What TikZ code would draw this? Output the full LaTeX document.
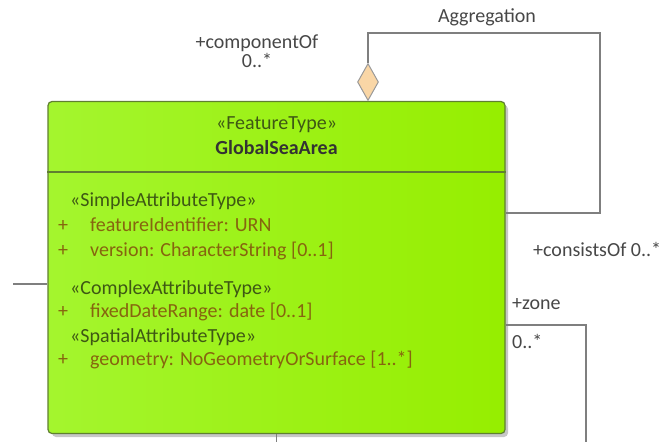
\documentclass[tikz,border=0pt]{standalone}
\usepackage{fontspec}
\setmainfont{Carlito}
\usetikzlibrary{shapes.geometric}

\definecolor{classgreen}{HTML}{96EE00}
\definecolor{classlight}{HTML}{A4F52E}
\definecolor{classedge}{HTML}{5F7F30}
\definecolor{stereo}{HTML}{3E5814}
\definecolor{attr}{HTML}{86650F}
\definecolor{wire}{HTML}{7F7F7F}
\definecolor{peach}{HTML}{F9D6A6}

\tikzset{
  umltext/.style={font=\fontsize{20}{23}\selectfont, inner sep=0pt, text height=13pt, text depth=4pt},
  rolelabel/.style={umltext, text=black!72},
  stereotype/.style={umltext, text=stereo, anchor=west},
  attribute/.style={umltext, text=attr, anchor=west},
  classbox/.style={draw=classedge, line width=1.2pt, rounded corners=4pt, left color=classlight, right color=classgreen, minimum width=457pt, minimum height=332pt, inner sep=0pt},
  aggdiamond/.style={diamond, draw=wire!80, fill=peach, line width=1pt, minimum width=21pt, minimum height=37pt, inner sep=0pt},
  wire/.style={draw=wire, line width=1.4pt}
}

\begin{document}
\begin{tikzpicture}[x=1pt,y=-1pt]
  \useasboundingbox (0,0) rectangle (660,442);
  \fill[black!22, rounded corners=4pt] (52,105) rectangle (508,437);
  \node[classbox] (gsa) at (276.5,267.5) {};
  \draw[classedge, line width=1.2pt] (gsa.west |- 0,172) -- (gsa.east |- 0,172);

  \node[umltext, text=stereo] (ftype) at (276.5,125) {«FeatureType»};
  \node[umltext, text=black!80, font=\fontsize{20}{23}\selectfont\bfseries] (gname) at (276.5,150) {GlobalSeaArea};

  \node[stereotype] (simple) at (70,202) {«SimpleAttributeType»};
  \node[attribute] (p1) at (58,227) {+};
  \node[attribute] (fid) at (90,227) {featureIdentifier: URN};
  \node[attribute] (p2) at (58,252) {+};
  \node[attribute] (ver) at (90,252) {version: CharacterString [0..1]};
  \node[stereotype] (complex) at (70,290) {«ComplexAttributeType»};
  \node[attribute] (p3) at (58,313) {+};
  \node[attribute] (fdr) at (90,313) {fixedDateRange: date [0..1]};
  \node[stereotype] (spatial) at (70,338) {«SpatialAttributeType»};
  \node[attribute] (p4) at (58,361) {+};
  \node[attribute] (geom) at (90,361) {geometry: NoGeometryOrSurface [1..*]};

  % aggregation onto itself
  \node[aggdiamond] (agg) at (368,82) {};
  \coordinate (aggcorner) at (600,33);
  \draw[wire] (agg.north) |- (aggcorner) |- (gsa.east |- 0,213);
  \node[rolelabel] (aggname) at (487,18) {Aggregation};
  \node[rolelabel] (compof) at (257,44) {+componentOf};
  \node[rolelabel] (compmult) at (257,63) {0..*};
  \node[rolelabel, anchor=west] (consists) at (533,252) {+consistsOf 0..*};

  % other associations
  \coordinate (zoneend) at (586,442);
  \draw[wire] (gsa.east |- 0,325) -| (zoneend);
  \node[rolelabel, anchor=west] (zone) at (512,305) {+zone};
  \node[rolelabel, anchor=west] (zonemult) at (512,344) {0..*};

  \coordinate (leftend) at (13,284);
  \draw[wire] (leftend) -- (gsa.west |- leftend);
  \coordinate (bottomend) at (277,442);
  \draw[wire] (gsa.south) -- (gsa.south |- bottomend);
\end{tikzpicture}
\end{document}
